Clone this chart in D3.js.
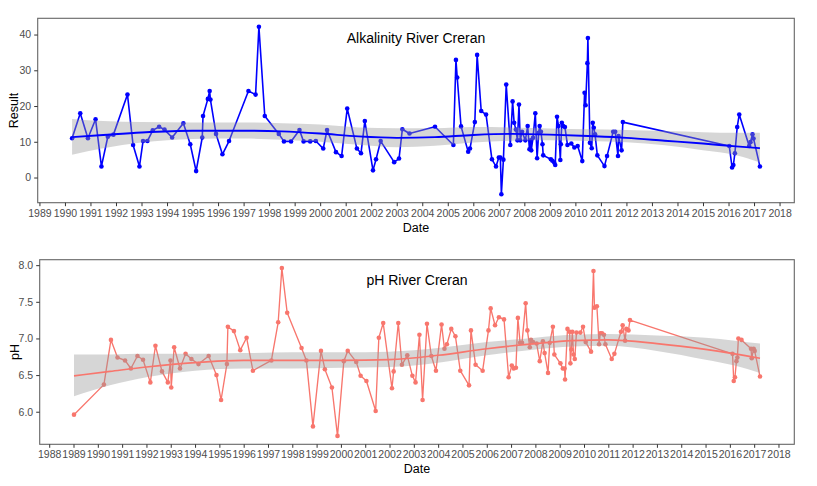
<!DOCTYPE html>
<html>
<head>
<meta charset="utf-8">
<script src="https://cdn.jsdelivr.net/npm/d3@7"></script>
<style>
  body { margin: 0; background: #fff; }
  svg { font-family: "Liberation Sans", Arial, sans-serif; }
</style>
</head>
<body>
<div id="chart"></div>
<script>
// alkalinity samples (decimal year, result)
let alkYear = [1990.28,1990.6,1990.9,1991.2,1991.43,1991.68,1991.9,1992.45,1992.67,1992.92,
  1993.06,1993.23,1993.44,1993.69,1993.9,1994.2,1994.64,1994.91,1995.14,1995.38,
  1995.41,1995.6,1995.67,1995.7,1995.92,1996.17,1996.43,1997.19,1997.47,1997.6,
  1997.83,1998.38,1998.58,1998.86,1999.19,1999.35,1999.61,1999.83,2000.12,2000.27,
  2000.62,2000.84,2001.06,2001.44,2001.6,2001.75,2002.07,2002.19,2002.37,2002.9,
  2003.09,2003.22,2003.5,2004.5,2005.22,2005.32,2005.37,2005.52,2005.8,2005.87,
  2006.06,2006.15,2006.31,2006.5,2006.73,2006.89,2007.0,2007.06,2007.1,2007.18,
  2007.29,2007.45,2007.54,2007.6,2007.67,2007.73,2007.79,2007.84,2007.91,2008.04,
  2008.13,2008.2,2008.25,2008.27,2008.34,2008.43,2008.5,2008.56,2008.6,2008.65,
  2008.71,2008.74,2009.04,2009.1,2009.17,2009.21,2009.28,2009.34,2009.41,2009.43,
  2009.47,2009.52,2009.59,2009.69,2009.84,2009.96,2010.09,2010.27,2010.36,2010.4,
  2010.47,2010.49,2010.57,2010.64,2010.68,2010.72,2010.77,2010.86,2011.14,2011.24,
  2011.48,2011.56,2011.67,2011.69,2011.81,2011.86,2016.03,2016.14,2016.19,2016.25,
  2016.34,2016.42,2016.81,2016.86,2016.94,2016.98,2017.23];
let alkValue = [11,18,11,16.3,3.1,11.4,12,23.2,9.1,3.1,
  10.2,10.2,13.2,14.2,13.4,11.2,15.2,9.3,1.8,11.2,
  17.2,22,24.2,21.8,12.2,6.5,10.2,24.2,23.2,42.2,
  17.2,12.2,10.1,10.1,13.3,10.1,10.1,10.2,8.1,13.3,
  7.1,6,19.3,8.1,6.8,15.8,2,5.1,10.2,4.3,
  5.3,13.5,12.3,14.2,9.1,32.9,28,14.3,7.2,8.1,
  15.5,34.3,18.6,17.6,5.1,3.1,5.6,5.6,-4.7,5,
  26,9.1,21.3,15.3,13.4,10.4,20.4,10.4,12.8,10.4,
  14.4,7.9,10.4,7.6,11.1,18,5.4,12.5,14.4,12.8,
  9.3,6.2,5.1,4.7,4.2,3.5,17,14.4,4.9,9.3,
  15.3,14.4,14.1,9.1,9.5,8.4,8.8,4.6,23.7,20.2,
  32,39,9.7,8.2,15.3,13.9,12.1,6.2,3.2,6,
  12.8,12.8,6,11.6,7.6,15.5,8.8,2.8,3.5,6.8,
  14.1,17.6,8.8,9.9,12.1,10.9,3.1];

// loess smooth of alkalinity
let alkSmYear = [1990.28,1991.5,1993,1995,1997,1998.5,2000,2001.5,2003,2004.5,2006,2007.5,2009,2010.5,2012,2013.5,2015,2016.3,2017.23];
let alkFit = [11.3,11.9,12.6,13.1,13.1,12.9,12.3,11.5,11.1,11.3,11.9,12.2,12.0,11.6,11.1,10.3,9.5,8.7,8.2];
let alkLo  = [6.4,8.2,9.8,10.8,10.9,10.6,10.0,9.2,8.5,8.9,9.8,10.3,10.4,10.2,9.9,9.0,7.6,6.2,4.2];
let alkHi  = [16.4,15.8,15.5,15.4,15.4,15.2,14.8,14.0,13.8,13.8,14.1,14.0,13.7,13.5,13.3,13.0,12.7,12.5,12.5];

// pH samples
let phYear = [1989.02,1990.25,1990.54,1990.81,1991.12,1991.36,1991.63,1991.86,1992.16,1992.37,
  1992.64,1992.88,1992.99,1993.02,1993.14,1993.38,1993.61,1993.85,1994.14,1994.56,
  1994.88,1995.07,1995.31,1995.35,1995.6,1995.86,1996.12,1996.38,1997.14,1997.42,
  1997.57,1997.79,1998.38,1998.58,1998.85,1999.18,1999.34,1999.63,1999.86,2000.12,
  2000.28,2000.63,2000.81,2001.05,2001.43,2001.56,2001.74,2002.1,2002.17,2002.36,
  2002.51,2002.73,2002.94,2003.07,2003.23,2003.36,2003.54,2003.72,2003.91,2004.14,
  2004.26,2004.36,2004.54,2004.71,2004.91,2005.27,2005.35,2005.54,2005.83,2006.07,
  2006.16,2006.34,2006.5,2006.71,2006.9,2007.03,2007.11,2007.2,2007.28,2007.37,
  2007.45,2007.6,2007.67,2007.77,2007.82,2007.9,2008.05,2008.18,2008.31,2008.38,
  2008.52,2008.59,2008.72,2008.78,2009.03,2009.13,2009.2,2009.22,2009.32,2009.41,
  2009.44,2009.48,2009.52,2009.57,2009.62,2009.69,2009.85,2009.96,2010.07,2010.29,
  2010.39,2010.43,2010.53,2010.62,2010.67,2010.74,2010.82,2010.88,2011.14,2011.25,
  2011.52,2011.59,2011.69,2011.74,2011.83,2011.89,2016.11,2016.16,2016.21,2016.27,
  2016.31,2016.35,2016.48,2016.87,2016.9,2016.98,2017.02,2017.24];
let phValue = [5.96,6.37,6.98,6.74,6.70,6.59,6.76,6.71,6.40,6.90,
  6.55,6.40,6.70,6.33,6.88,6.59,6.79,6.72,6.65,6.76,
  6.50,6.16,6.65,7.16,7.10,6.84,7.01,6.56,6.70,7.22,
  7.96,7.35,6.87,6.70,5.80,6.83,6.58,6.33,5.67,6.69,
  6.83,6.68,6.49,6.42,6.01,7.01,7.21,6.32,6.55,7.21,
  6.64,6.77,6.49,6.40,7.05,6.16,7.20,6.76,6.56,7.19,
  6.86,6.92,7.13,7.03,6.56,6.36,7.11,6.64,6.56,7.11,
  7.41,7.18,7.29,7.26,6.47,6.63,6.59,6.60,7.28,6.94,
  6.94,7.48,7.11,6.88,6.98,6.95,6.93,6.69,6.96,6.80,
  6.53,6.94,7.16,6.78,6.66,6.59,6.59,6.44,7.13,7.09,
  6.66,6.85,7.09,6.78,6.72,7.08,7.08,7.16,6.95,6.82,
  7.92,7.42,7.44,6.92,7.07,7.07,7.05,6.92,6.72,6.79,
  7.09,7.18,6.97,7.13,7.11,7.25,6.79,6.42,6.47,6.69,
  6.74,7.00,6.98,6.86,6.73,6.86,6.83,6.48];

let phSmYear = [1989.02,1990.5,1992,1994,1996,1998,2000,2002,2004,2006,2008,2009.5,2011,2013,2015,2016.2,2017.24];
let phFit = [6.49,6.55,6.61,6.67,6.70,6.70,6.70,6.71,6.77,6.86,6.93,6.97,6.98,6.93,6.85,6.79,6.73];
let phLo  = [6.21,6.36,6.47,6.56,6.59,6.59,6.60,6.61,6.67,6.77,6.85,6.89,6.90,6.83,6.71,6.63,6.53];
let phHi  = [6.78,6.78,6.79,6.79,6.80,6.81,6.81,6.82,6.87,6.95,7.01,7.05,7.06,7.04,7.01,6.97,6.93];

let alkYTicks = [0, 10, 20, 30, 40];
let phYTicks = [6.0, 6.5, 7.0, 7.5, 8.0];

let width = 817, height = 486;

let svg = d3.select("#chart").append("svg")
  .attr("width", width)
  .attr("height", height);

// ggplot style 5% expansion
function expand(ext) {
  let d = (ext[1] - ext[0]) * 0.05;
  return [ext[0] - d, ext[1] + d];
}

function buildPanel(opt) {
  let x = d3.scaleLinear().domain(expand(d3.extent(opt.years))).range([opt.left, opt.right]);
  let y = d3.scaleLinear().domain(expand(d3.extent(opt.values))).range([opt.bottom, opt.top]);

  let g = svg.append("g");

  g.append("rect")
    .attr("x", opt.left).attr("y", opt.top)
    .attr("width", opt.right - opt.left).attr("height", opt.bottom - opt.top)
    .attr("fill", "#fff");

  let pts = opt.years.map((d, i) => ({ x: d, y: opt.values[i] }));

  g.append("path")
    .datum(pts)
    .attr("fill", "none")
    .attr("stroke", opt.color)
    .attr("stroke-width", opt.lw)
    .attr("stroke-linejoin", "round")
    .attr("d", d3.line().x(d => x(d.x)).y(d => y(d.y)));

  g.selectAll("circle.pt")
    .data(pts)
    .join("circle")
    .attr("class", "pt")
    .attr("cx", d => x(d.x))
    .attr("cy", d => y(d.y))
    .attr("r", 2.3)
    .attr("fill", opt.color);

  let sm = opt.smYear.map((d, i) => ({ x: d, fit: opt.fit[i], lo: opt.lo[i], hi: opt.hi[i] }));

  g.append("path")
    .datum(sm)
    .attr("fill", "#999999")
    .attr("fill-opacity", 0.4)
    .attr("d", d3.area().curve(d3.curveMonotoneX)
      .x(d => x(d.x)).y0(d => y(d.lo)).y1(d => y(d.hi)));

  g.append("path")
    .datum(sm)
    .attr("fill", "none")
    .attr("stroke", opt.color)
    .attr("stroke-width", opt.lw + 0.3)
    .attr("d", d3.line().curve(d3.curveMonotoneX).x(d => x(d.x)).y(d => y(d.fit)));

  // border
  g.append("rect")
    .attr("x", opt.left).attr("y", opt.top)
    .attr("width", opt.right - opt.left).attr("height", opt.bottom - opt.top)
    .attr("fill", "none")
    .attr("stroke", "#666")
    .attr("stroke-width", 1.1);

  let xTicks = d3.range(Math.ceil(x.domain()[0]), Math.floor(x.domain()[1]) + 1);

  let xAxis = g.append("g")
    .attr("transform", `translate(0,${opt.bottom})`)
    .call(d3.axisBottom(x).tickValues(xTicks).tickFormat(d3.format("d")).tickSize(3.5).tickPadding(3));
  let yAxis = g.append("g")
    .attr("transform", `translate(${opt.left},0)`)
    .call(d3.axisLeft(y).tickValues(opt.yTicks).tickFormat(opt.yFormat).tickSize(3.5).tickPadding(3));

  [xAxis, yAxis].forEach(a => {
    a.select(".domain").remove();
    a.selectAll(".tick line").attr("stroke", "#333").attr("stroke-width", 1);
    a.selectAll(".tick text")
      .attr("fill", "#4d4d4d")
      .style("font-size", "10.5px")
      .style("font-family", "Liberation Sans, Arial, sans-serif");
  });

  g.append("text")
    .text(opt.title)
    .attr("x", (opt.left + opt.right) / 2)
    .attr("y", opt.top + 25)
    .attr("text-anchor", "middle")
    .style("font-size", "14px")
    .attr("fill", "#000");

  g.append("text")
    .text("Date")
    .attr("x", (opt.left + opt.right) / 2)
    .attr("y", opt.bottom + 29)
    .attr("text-anchor", "middle")
    .style("font-size", "12.5px")
    .attr("fill", "#000");

  g.append("text")
    .text(opt.yLabel)
    .attr("transform", `translate(${opt.yLabelX},${(opt.top + opt.bottom) / 2}) rotate(-90)`)
    .attr("text-anchor", "middle")
    .style("font-size", "12.5px")
    .attr("fill", "#000");
}

buildPanel({
  years: alkYear, values: alkValue,
  smYear: alkSmYear, fit: alkFit, lo: alkLo, hi: alkHi,
  color: "#0000FF", lw: 1.6,
  left: 37.7, right: 794.3, top: 18.3, bottom: 202.7,
  yTicks: alkYTicks, yFormat: d3.format("d"),
  title: "Alkalinity River Creran", yLabel: "Result", yLabelX: 18
});

buildPanel({
  years: phYear, values: phValue,
  smYear: phSmYear, fit: phFit, lo: phLo, hi: phHi,
  color: "#F8766D", lw: 1.35,
  left: 39.7, right: 794.3, top: 259.7, bottom: 444.3,
  yTicks: phYTicks, yFormat: d3.format(".1f"),
  title: "pH River Creran", yLabel: "pH", yLabelX: 19
});
</script>
</body>
</html>
